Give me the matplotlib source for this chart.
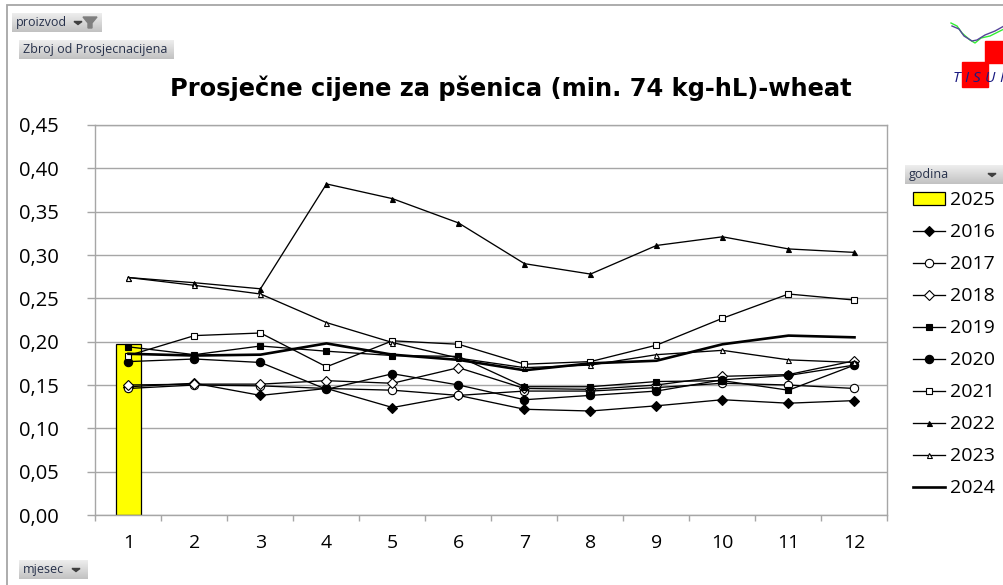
#!/usr/bin/env python3
import matplotlib
matplotlib.use('Agg')
import matplotlib.pyplot as plt
import numpy as np
from matplotlib.patches import Rectangle, Polygon

W, H = 1004, 585

months = [1, 2, 3, 4, 5, 6, 7, 8, 9, 10, 11, 12]
y_ticks = [0.00, 0.05, 0.10, 0.15, 0.20, 0.25, 0.30, 0.35, 0.40, 0.45]

v2025 = [0.197]
v2016 = [0.148, 0.152, 0.138, 0.146, 0.124, 0.138, 0.122, 0.120, 0.126, 0.133, 0.129, 0.132]
v2017 = [0.146, 0.150, 0.149, 0.146, 0.144, 0.138, 0.143, 0.143, 0.147, 0.152, 0.150, 0.146]
v2018 = [0.150, 0.151, 0.151, 0.155, 0.152, 0.170, 0.146, 0.145, 0.150, 0.160, 0.162, 0.178]
v2019 = [0.194, 0.185, 0.195, 0.189, 0.184, 0.183, 0.148, 0.148, 0.154, 0.155, 0.144, 0.173]
v2020 = [0.177, 0.180, 0.176, 0.145, 0.163, 0.150, 0.133, 0.138, 0.143, 0.156, 0.161, 0.173]
v2021 = [0.184, 0.207, 0.210, 0.171, 0.201, 0.197, 0.174, 0.177, 0.196, 0.227, 0.255, 0.248]
v2022 = [0.274, 0.268, 0.261, 0.382, 0.365, 0.337, 0.290, 0.278, 0.311, 0.321, 0.307, 0.303]
v2023 = [0.274, 0.265, 0.255, 0.222, 0.199, 0.181, 0.170, 0.173, 0.185, 0.190, 0.179, 0.176]
v2024 = [0.186, 0.184, 0.185, 0.198, 0.185, 0.179, 0.167, 0.175, 0.178, 0.197, 0.207, 0.205]

plt.rcParams['font.family'] = ['Open Sans', 'DejaVu Sans']
GRID = '#a6a6a6'

fig = plt.figure(figsize=(W / 100, H / 100), dpi=100, facecolor='white')

# overlay in pixel coordinates for the excel furniture
bg = fig.add_axes([0, 0, 1, 1], zorder=0)
bg.axis('off')

ax = fig.add_axes([95.5 / W, 1 - 515 / H, 792 / W, 390 / H], zorder=1)
ax.patch.set_alpha(0)

bar = ax.bar(months[:1], v2025, width=0.39, color='#ffff00', edgecolor='black', linewidth=0.9, zorder=2, label='2025')

series = [
    (v2016, '2016', 'D', 'black', 5.0),
    (v2017, '2017', 'o', 'white', 6.0),
    (v2018, '2018', 'D', 'white', 5.0),
    (v2019, '2019', 's', 'black', 3.8),
    (v2020, '2020', 'o', 'black', 6.0),
    (v2021, '2021', 's', 'white', 3.8),
    (v2022, '2022', '^', 'black', 3.6),
    (v2023, '2023', '^', 'white', 3.6),
]
handles = [bar]
for vals, name, mk, fc, size in series:
    ln, = ax.plot(months, vals, color='black', lw=0.95, marker=mk, markerfacecolor=fc,
                  markeredgecolor='black', markeredgewidth=0.8, markersize=size, zorder=3, label=name)
    handles.append(ln)
ln, = ax.plot(months, v2024, color='black', lw=1.9, zorder=3, label='2024')
handles.append(ln)

ax.set_xlim(0.5, 12.5)
ax.set_ylim(0, 0.45)
ax.set_yticks(y_ticks)
ax.yaxis.set_major_formatter(lambda v, p: ('%.2f' % v).replace('.', ','))
ax.set_xticks(np.arange(0.5, 13, 1))
ax.set_xticklabels([])
ax.set_xticks(months, minor=True)
ax.set_xticklabels([str(m) for m in months], minor=True)
ax.grid(axis='y', color=GRID, lw=1.0, zorder=0)
ax.set_axisbelow(True)
for s in ax.spines.values():
    s.set_color(GRID)
    s.set_linewidth(1.0)
ax.tick_params(axis='y', direction='out', length=5.5, width=1.0, color=GRID, labelsize=14.5, pad=21)
ax.tick_params(axis='x', which='major', direction='out', length=4.5, width=1.0, color=GRID)
ax.tick_params(axis='x', which='minor', length=0, labelsize=14, pad=14)

leg = fig.legend(handles=handles, loc='upper left', bbox_to_anchor=(913 / W, 1 - 191.5 / H),
                 frameon=False, fontsize=14, labelspacing=0.72, handlelength=1.65,
                 handletextpad=0.25, borderpad=0, borderaxespad=0)

fig.text(511 / W, 1 - 88 / H, 'Prosječne cijene za pšenica (min. 74 kg-hL)-wheat', ha='center', va='center',
         fontsize=17.35, fontweight='bold', color='black', family='DejaVu Sans')

# outer border of the chart object
bg.plot([7, 7, W], [H, 5, 5], color=GRID, lw=1.3, solid_joinstyle='miter')


def button(x0, y0, x1, y1, label, arrow=None, funnel=False):
    grad = np.linspace(0.93, 0.76, 32).reshape(-1, 1)
    bg.imshow(grad, extent=(x0, x1, y1, y0), cmap='gray', vmin=0, vmax=1, aspect='auto', zorder=1)
    bg.text(x0 + 4, (y0 + y1) / 2, label, fontsize=9, color='#26304a', va='center', ha='left', zorder=2)
    if arrow is not None:
        bg.add_patch(Polygon([(arrow - 4, (y0 + y1) / 2 - 1), (arrow + 4, (y0 + y1) / 2 - 1), (arrow, (y0 + y1) / 2 + 2)],
                             color='#404040', zorder=2))
    if funnel:
        bg.add_patch(Polygon([(83, 17), (97, 17), (92, 23), (92, 28), (88, 28), (88, 23)], color='#7f7f7f', zorder=2))


button(12, 13, 102, 32, 'proizvod', arrow=78, funnel=True)
button(19, 40, 174, 59, 'Zbroj od Prosjecnacijena')
button(905, 165, 1003, 184, 'godina', arrow=992)
button(19, 560, 88, 579, 'mjesec', arrow=76)

# logo, top right
bg.add_patch(Rectangle((985, 41), 19, 22, color='#ff0000', zorder=2))
bg.add_patch(Rectangle((962, 62), 26, 25, color='#ff0000', zorder=2))
bg.plot([951, 957, 962, 970, 975, 981, 990, 1004], [23, 26, 33, 40, 43, 38, 36, 29], color='#33ee33', lw=1, zorder=3)
bg.plot([952, 959, 964, 972, 977, 985, 995, 1004], [26, 29, 36, 41, 40, 35, 31, 26], color='#554499', lw=1, zorder=3)
for x, ch in zip([956, 966, 977, 990, 1001], 'TISUI'):
    bg.text(x, 79, ch, fontsize=11, style='italic', color='#1a1a80', ha='center', va='center', zorder=4)
bg.set_xlim(0, W)
bg.set_ylim(H, 0)

fig.savefig('out.png', dpi=100)
